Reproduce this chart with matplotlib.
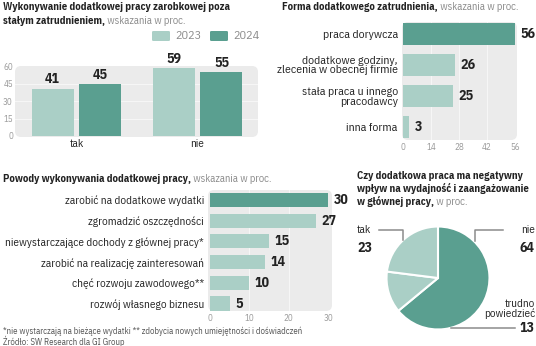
import matplotlib
matplotlib.use("Agg")
import matplotlib.pyplot as plt
from matplotlib.patches import FancyBboxPatch
from matplotlib.lines import Line2D
from matplotlib.text import Annotation

W, H = 536, 346
DARK = "#5a9f90"
LIGHT = "#aacfc6"
PANEL = "#ebebeb"
GRID = "#f6f6f6"
TICK = "#9a9a9a"
TXT = "#222222"
SUB = "#8a8a8a"
FONT = "IBM Plex Sans Condensed"

plt.rcParams["font.family"] = [FONT, "DejaVu Sans"]

# wykonywanie dodatkowej pracy
work_cats = ["tak", "nie"]
work_2023 = [41, 59]
work_2024 = [45, 55]

# forma dodatkowego zatrudnienia
form_labels = ["praca dorywcza", "dodatkowe godziny,\nzlecenia w obecnej firmie",
               "stała praca u innego\npracodawcy", "inna forma"]
form_values = [56, 26, 25, 3]

# powody
reason_labels = ["zarobić na dodatkowe wydatki", "zgromadzić oszczędności",
                 "niewystarczające dochody z głównej pracy*",
                 "zarobić na realizację zainteresowań",
                 "chęć rozwoju zawodowego**", "rozwój własnego biznesu"]
reason_values = [30, 27, 15, 14, 10, 5]

# wpływ na wydajność
pie_labels = ["nie", "trudno\npowiedzieć", "tak"]
pie_values = [64, 13, 23]


def fx(x):
    return x / W


def fy(y):
    return 1 - y / H


def px_axes(fig, x0, y0, x1, y1, radius=6):
    ax = fig.add_axes([fx(x0), fy(y1), (x1 - x0) / W, (y1 - y0) / H])
    ax.set_facecolor("none")
    for s in ax.spines.values():
        s.set_visible(False)
    w, h = x1 - x0, y1 - y0
    ax.add_patch(FancyBboxPatch((0, 0), 1, 1,
                                boxstyle=f"round,pad=0,rounding_size={radius / w}",
                                mutation_aspect=w / h, transform=ax.transAxes,
                                facecolor=PANEL, edgecolor="none", zorder=0))
    return ax


def heading(fig, x, y, bold, rest=None, size=7.7):
    t = fig.text(fx(x), fy(y), bold, fontsize=size, fontweight="bold", color=TXT,
                 ha="left", va="baseline")
    if rest:
        fig.add_artist(Annotation(" " + rest, xy=(1, 0), xycoords=t, ha="left",
                                  va="bottom", fontsize=size, color=SUB))
    return t


def value_label(ax, text, xy, offset, ha, va):
    ax.annotate(text, xy, xytext=offset, textcoords="offset points", ha=ha, va=va,
                fontsize=10, fontweight="bold", color=TXT, annotation_clip=False)


fig = plt.figure(figsize=(W / 100, H / 100), dpi=100)
fig.patch.set_facecolor("white")

# ---- wykonywanie dodatkowej pracy: kolumny 2023/2024
ax1 = px_axes(fig, 15, 66, 258, 137)
xs = list(range(len(work_cats)))
bw, off = 0.347, 0.198
b1 = ax1.bar([x - off for x in xs], work_2023, width=bw, color=LIGHT, zorder=2)
b2 = ax1.bar([x + off for x in xs], work_2024, width=bw, color=DARK, zorder=2)
for bars, vals in ((b1, work_2023), (b2, work_2024)):
    for b, v in zip(bars, vals):
        value_label(ax1, str(v), (b.get_x() + b.get_width() / 2, v), (0, 1.5),
                    "center", "bottom")
for g in (15, 30, 45):
    ax1.axhline(g, color=GRID, lw=0.8, zorder=1)
ax1.set_xlim(-0.508, 1.5)
ax1.set_ylim(-1, 60.5)
ax1.set_yticks([0, 15, 30, 45, 60])
ax1.set_xticks(xs, work_cats)
ax1.tick_params(axis="y", length=0, pad=1.5, labelsize=6.5, labelcolor=TICK)
ax1.tick_params(axis="x", length=0, pad=1.5, labelsize=8, labelcolor=TXT)

heading(fig, 3, 10, "Wykonywanie dodatkowej pracy zarobkowej poza")
heading(fig, 3, 24, "stałym zatrudnieniem,", "wskazania w proc.")

for lx, col, lab in ((152, LIGHT, "2023"), (210, DARK, "2024")):
    fig.add_artist(FancyBboxPatch((fx(lx), fy(41)), fx(18), 10 / H,
                                  boxstyle="round,pad=0,rounding_size=0.003",
                                  transform=fig.transFigure, facecolor=col,
                                  edgecolor="none"))
    fig.text(fx(lx + 23), fy(36), lab, fontsize=8.8, color=SUB, ha="left", va="center")

# ---- forma dodatkowego zatrudnienia
ax2 = px_axes(fig, 402, 22, 517, 140)
ys = list(range(len(form_values)))
bars = ax2.barh(ys, form_values, height=0.71,
                color=[DARK] + [LIGHT] * (len(form_values) - 1), zorder=2)
for b, v in zip(bars, form_values):
    value_label(ax2, str(v), (v, b.get_y() + b.get_height() / 2), (4, 0), "left", "center")
for g in (14, 28, 42):
    ax2.axvline(g, color=GRID, lw=0.8, zorder=1)
ax2.set_xlim(-0.5, 57)
ax2.set_ylim(3.42, -0.38)
ax2.set_xticks([0, 14, 28, 42, 56])
ax2.set_yticks(ys, form_labels)
ax2.tick_params(axis="x", length=0, pad=2, labelsize=6.5, labelcolor=TICK)
ax2.tick_params(axis="y", length=0, pad=3, labelsize=8.5, labelcolor=TXT)
for lab in ax2.get_yticklabels():
    lab.set_linespacing(0.95)

heading(fig, 282, 10, "Forma dodatkowego zatrudnienia,", "wskazania w proc.")

# ---- powody
ax3 = px_axes(fig, 208, 190, 332, 311)
ys = list(range(len(reason_values)))
bars = ax3.barh(ys, reason_values, height=0.68,
                color=[DARK] + [LIGHT] * (len(reason_values) - 1), zorder=2)
for b, v in zip(bars, reason_values):
    value_label(ax3, str(v), (v, b.get_y() + b.get_height() / 2), (4, 0), "left", "center")
for g in (10, 20):
    ax3.axvline(g, color=GRID, lw=0.8, zorder=1)
ax3.set_xlim(-0.5, 31)
ax3.set_ylim(5.36, -0.48)
ax3.set_xticks([0, 10, 20, 30])
ax3.set_yticks(ys, reason_labels)
ax3.tick_params(axis="x", length=0, pad=2, labelsize=6.5, labelcolor=TICK)
ax3.tick_params(axis="y", length=0, pad=3, labelsize=8.1, labelcolor=TXT)

heading(fig, 3, 182, "Powody wykonywania dodatkowej pracy,", "wskazania w proc.")

fig.text(fx(3), fy(331), "*nie wystarczają na bieżące wydatki ** zdobycia nowych "
         "umiejętności i doświadczeń", fontsize=6.3, color="#555555", ha="left", va="center")
fig.text(fx(3), fy(341), "Źródło: SW Research dla GI Group", fontsize=6.3,
         color="#555555", ha="left", va="center")

# ---- wpływ na wydajność: wykres kołowy
ax4 = fig.add_axes([fx(386), fy(330), 104 / W, 104 / H])
ax4.pie(pie_values, colors=[DARK, LIGHT, LIGHT], startangle=90, counterclock=False,
        radius=1, wedgeprops=dict(edgecolor="white", linewidth=1.5))
ax4.set_xlim(-1.01, 1.01)
ax4.set_ylim(-1.01, 1.01)
ax4.set_aspect("equal")
ax4.axis("off")

heading(fig, 357, 179, "Czy dodatkowa praca ma negatywny")
heading(fig, 357, 192, "wpływ na wydajność i zaangażowanie")
heading(fig, 357, 205, "w głównej pracy,", "w proc.")

lead = dict(color="#8c8c8c", lw=1.1, transform=fig.transFigure)
fig.add_artist(Line2D([fx(379), fx(403), fx(403)], [fy(230), fy(230), fy(240)], **lead))
fig.add_artist(Line2D([fx(503), fx(475), fx(475)], [fy(230), fy(230), fy(241)], **lead))
fig.add_artist(Line2D([fx(451), fx(515)], [fy(328), fy(328)], **lead))

num = dict(fontsize=10, fontweight="bold", color=TXT, va="center")
fig.text(fx(357), fy(230), pie_labels[2], fontsize=8, color=TXT, ha="left", va="center")
fig.text(fx(357), fy(248), str(pie_values[2]), ha="left", **num)
fig.text(fx(535), fy(230), pie_labels[0], fontsize=8, color=TXT, ha="right", va="center")
fig.text(fx(535), fy(248), str(pie_values[0]), ha="right", **num)
fig.text(fx(535), fy(309), pie_labels[1], fontsize=8, color=TXT, ha="right", va="center",
         linespacing=1.0)
fig.text(fx(535), fy(328), str(pie_values[1]), ha="right", **num)

fig.savefig("out.png", dpi=100)
